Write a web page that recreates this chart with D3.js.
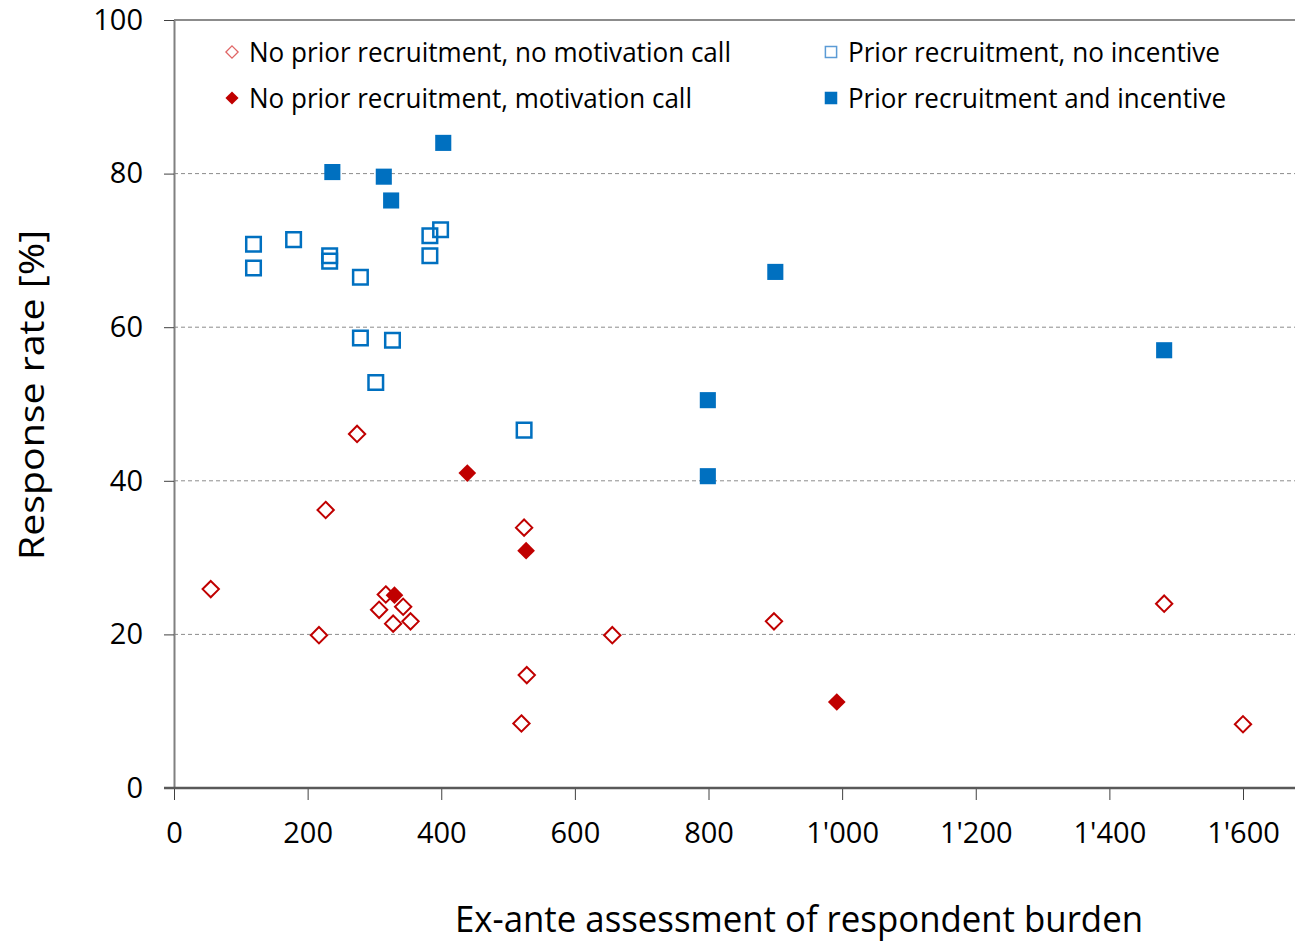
<!DOCTYPE html>
<html>
<head>
<meta charset="utf-8">
<script src="https://cdn.jsdelivr.net/npm/d3@7"></script>
<style>
  body { margin: 0; background: #fff; }
  text { font-family: "Open Sans", "Noto Sans", sans-serif; fill: #000; }
</style>
</head>
<body>
<svg id="scatter" width="1295" height="942"></svg>
<script>
// burden (x), response rate % (y)
const openDiamonds = [
  [55, 25.9], [217, 19.9], [227, 36.2], [274, 46.1], [307, 23.2], [317, 25.2],
  [343, 23.6], [328, 21.4], [354, 21.7], [524, 33.9], [528, 14.7], [520, 8.4],
  [656, 19.9], [898, 21.7], [1482, 24.0], [1600, 8.3]
];
const filledDiamonds = [[330, 25.1], [439, 41.0], [527, 30.9], [992, 11.2]];
const openSquares = [
  [119, 70.8], [119, 67.7], [179, 71.4], [233, 69.3], [233, 68.6], [279, 66.5],
  [279, 58.6], [327, 58.3], [302, 52.8], [383, 71.9], [399, 72.7], [383, 69.3],
  [524, 46.6]
];
const filledSquares = [
  [237, 80.2], [314, 79.6], [325, 76.5], [403, 84.0], [900, 67.2],
  [799, 50.5], [799, 40.6], [1482, 57.0]
];
const xTicks = [0, 200, 400, 600, 800, 1000, 1200, 1400, 1600];
const yTicks = [0, 20, 40, 60, 80, 100];
const legendLabels = [
  "No prior recruitment, no motivation call",
  "No prior recruitment, motivation call",
  "Prior recruitment, no incentive",
  "Prior recruitment and incentive"
];

const svg = d3.select("#scatter");
const width = +svg.attr("width");
const margin = { top: 20, left: 174, bottom: 154 };
const plotBottom = 942 - margin.bottom;

const red = "#c00000";
const blue = "#0070c0";

const x = d3.scaleLinear().domain([0, 1600]).range([margin.left, 1243]);
const y = d3.scaleLinear().domain([0, 100]).range([plotBottom, margin.top]);

// gridlines
svg.append("g")
  .selectAll("line")
  .data(yTicks.filter(d => d > 0 && d < 100))
  .join("line")
  .attr("x1", margin.left).attr("x2", width)
  .attr("y1", d => y(d)).attr("y2", d => y(d))
  .attr("stroke", "#8c8c8c")
  .attr("stroke-dasharray", "4,3");

// top border
svg.append("line")
  .attr("x1", margin.left).attr("x2", width)
  .attr("y1", y(100)).attr("y2", y(100))
  .attr("stroke", "#8c8c8c").attr("stroke-width", 2);

// axes
const fmt = d => d >= 1000 ? `${Math.floor(d / 1000)}'${String(d % 1000).padStart(3, "0")}` : `${d}`;

const xAxis = svg.append("g")
  .attr("transform", `translate(0,${plotBottom})`)
  .call(d3.axisBottom(x).tickValues(xTicks).tickFormat(fmt).tickSize(12).tickSizeOuter(0).tickPadding(22));
xAxis.select(".domain").remove();
xAxis.selectAll(".tick line").attr("stroke", "#404040");
xAxis.selectAll("text").attr("font-size", 29);

const yAxis = svg.append("g")
  .attr("transform", `translate(${margin.left},0)`)
  .call(d3.axisLeft(y).tickValues(yTicks).tickSize(10).tickSizeOuter(0).tickPadding(21));
yAxis.select(".domain").attr("stroke", "#808080").attr("stroke-width", 2);
yAxis.selectAll(".tick line").attr("stroke", "#404040");
yAxis.selectAll("text").attr("font-size", 29);

svg.append("line")
  .attr("x1", margin.left - 10).attr("x2", width)
  .attr("y1", plotBottom).attr("y2", plotBottom)
  .attr("stroke", "#595959").attr("stroke-width", 2.5);

// axis titles
svg.append("text")
  .attr("x", 799).attr("y", 932)
  .attr("text-anchor", "middle")
  .attr("font-size", 36)
  .attr("textLength", 688).attr("lengthAdjust", "spacingAndGlyphs")
  .text("Ex-ante assessment of respondent burden");

svg.append("text")
  .attr("transform", "translate(44,395) rotate(-90)")
  .attr("text-anchor", "middle")
  .attr("font-size", 34)
  .attr("textLength", 330).attr("lengthAdjust", "spacingAndGlyphs")
  .text("Response rate [%]");

// markers
const diamond = d3.symbol().type(d3.symbolDiamond2);
const square = d3.symbol().type(d3.symbolSquare2);

svg.append("g").selectAll("path")
  .data(openDiamonds).join("path")
  .attr("d", diamond.size(170))
  .attr("transform", d => `translate(${x(d[0])},${y(d[1])})`)
  .attr("fill", "#fff").attr("stroke", red).attr("stroke-width", 2);

svg.append("g").selectAll("path")
  .data(filledDiamonds).join("path")
  .attr("d", diamond.size(200))
  .attr("transform", d => `translate(${x(d[0])},${y(d[1])})`)
  .attr("fill", red);

svg.append("g").selectAll("path")
  .data(openSquares).join("path")
  .attr("d", square.size(270))
  .attr("transform", d => `translate(${x(d[0])},${y(d[1])})`)
  .attr("fill", "none").attr("stroke", blue).attr("stroke-width", 2.5);

svg.append("g").selectAll("path")
  .data(filledSquares).join("path")
  .attr("d", square.size(330))
  .attr("transform", d => `translate(${x(d[0])},${y(d[1])})`)
  .attr("fill", blue);

// legend
const legendPos = [[232, 52], [232, 98], [831, 52], [831, 98]];
const legendWidths = [482, 443, 372, 378];
const legend = svg.append("g");
legendLabels.forEach((label, i) => {
  const [lx, ly] = legendPos[i];
  const g = legend.append("g").attr("transform", `translate(${lx},${ly})`);
  if (i === 0) {
    g.append("path").attr("d", diamond.size(95))
      .attr("fill", "#fff").attr("stroke", "#e06666").attr("stroke-width", 1.3);
  } else if (i === 1) {
    g.append("path").attr("d", diamond.size(110)).attr("fill", red);
  } else if (i === 2) {
    g.append("path").attr("d", square.size(160))
      .attr("fill", "#fff").attr("stroke", "#5b9bd5").attr("stroke-width", 1.5);
  } else {
    g.append("path").attr("d", square.size(200)).attr("fill", blue);
  }
  g.append("text")
    .attr("x", 17).attr("y", 10)
    .attr("font-size", 28)
    .attr("textLength", legendWidths[i]).attr("lengthAdjust", "spacingAndGlyphs")
    .text(label);
});
</script>
</body>
</html>
